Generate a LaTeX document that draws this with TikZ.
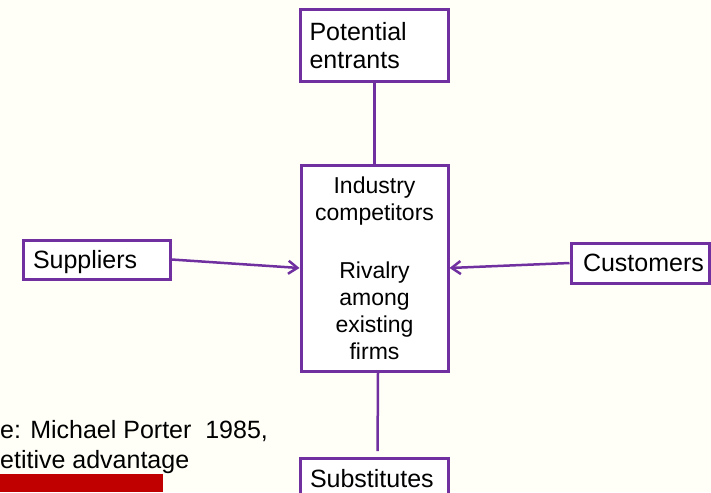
\documentclass[tikz,border=0pt]{standalone}
\usepackage{fontspec}
\setmainfont{Liberation Sans}
\usetikzlibrary{arrows.meta}
\definecolor{porterpurple}{RGB}{112,48,160}
\definecolor{slidebg}{RGB}{255,255,248}
\definecolor{barred}{RGB}{192,0,0}
\begin{document}
\begin{tikzpicture}[
    x=1pt, y=-1pt,
    force/.style={draw=porterpurple, line width=3pt, fill=white, inner ysep=0pt, align=left, font=\fontsize{25}{28}\selectfont},
    core/.style={draw=porterpurple, line width=3pt, fill=white, inner sep=3pt, text width=141pt, minimum height=206pt, align=center, font=\fontsize{23}{27}\selectfont},
    link/.style={draw=porterpurple, line width=2.5pt},
    push/.style={link, -{Straight Barb[length=9pt, width=13pt, line width=2.5pt]}}
]
\useasboundingbox (0,0) rectangle (711,492);
\fill[slidebg] (0,0) rectangle (711,492);
\clip (0,0) rectangle (711,492);

% the five forces
\node[core] (rival) at (374.5,268) {Industry\\competitors\\[31pt]Rivalry\\among\\existing\\firms};
\node[force, text width=130pt, inner xsep=9pt, minimum height=72pt] (pot) at (374.5,46) {Potential\\entrants};
\node[force, text width=127pt, inner xsep=10pt, minimum height=39pt, text depth=0pt] (sup) at (96.5,259.5) {Suppliers};
\node[force, text width=114.5pt, inner xsep=12pt, minimum height=40pt] (cust) at (640.25,263) {Customers};
\node[force, text width=128pt, inner xsep=10pt, minimum height=40pt, anchor=north] (subs) at (374,457) {Substitutes};

\draw[link] (pot) -- (rival);
\draw[link, shorten >=6pt] ([xshift=3.5pt]rival.south) -- ([xshift=3.5pt]subs.north);
\draw[push] (sup.east) -- (rival.west);
\draw[push] (cust.west) -- (rival.east);

% source line and bar
\node[anchor=base west, inner sep=0pt, align=left, font=\fontsize{25}{30}\selectfont] (src) at (0,468) {e: Michael Porter~ 1985,\\etitive advantage};
\fill[barred] (0,474) rectangle (163,492);
\end{tikzpicture}
\end{document}
